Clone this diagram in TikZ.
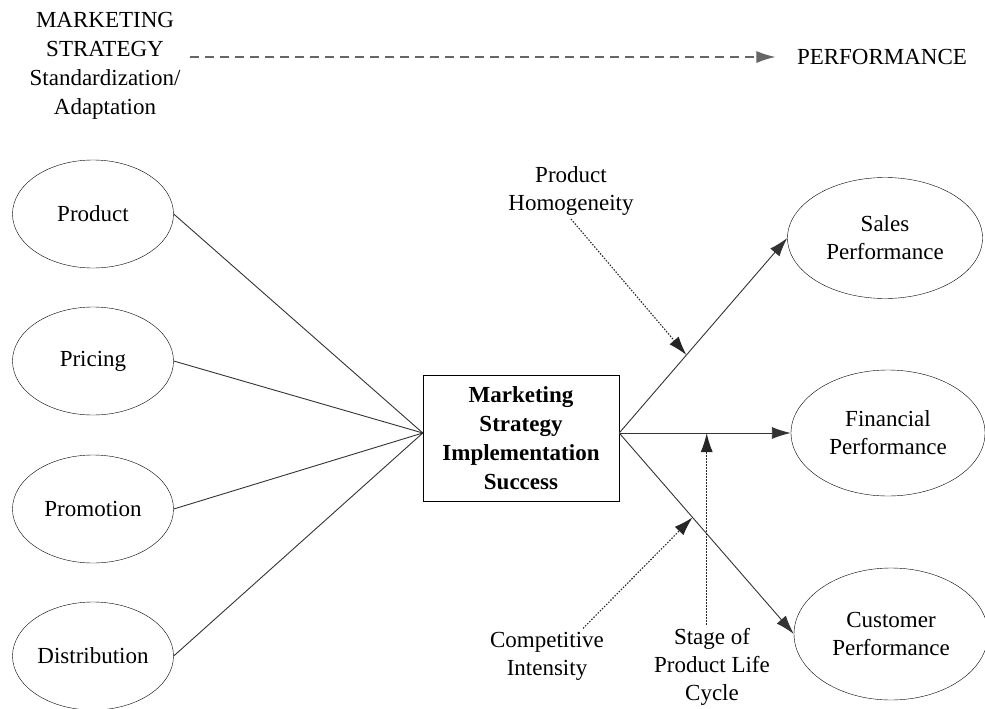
\documentclass[tikz,border=0pt]{standalone}
\usepackage{fontspec}
\setmainfont{Liberation Serif}
\usetikzlibrary{shapes.geometric, arrows.meta, calc}

\begin{document}
\begin{tikzpicture}[x=1pt, y=-1pt,
    every node/.style={font=\fontsize{23}{28}\selectfont, align=center},
    tip/.style={-{Latex[length=19pt, width=12pt]}},
    factor/.style={draw, ellipse, minimum width=161pt, minimum height=108pt, inner sep=0pt},
    outcome/.style={draw, ellipse, minimum width=194pt, minimum height=126pt, inner sep=0pt},
    link/.style={draw=black!80, line width=0.9pt},
    moder/.style={tip, black!85, line width=1.1pt, dash pattern=on 1.5pt off 1.5pt}]
    \useasboundingbox (0,0) rectangle (985,709);
    % Header
    \node [font=\fontsize{23}{29}\selectfont] (mstrat) at (105,66) {MARKETING\\STRATEGY\\Standardization/\\Adaptation};
    \node (perf) at (882,57) {PERFORMANCE};
    \draw [tip, black!60, line width=1.3pt, dash pattern=on 9pt off 6pt, shorten <=6pt, shorten >=18pt]
        (mstrat.east |- perf.west) -- (perf.west);
    % Mix elements
    \foreach \name/\txt/\y in {prod/Product/214, pric/Pricing/361, prom/Promotion/509, dist/Distribution/656}
        \node [factor] (\name) at (93,\y) {\txt};
    % Implementation
    \node [draw, minimum width=196pt, minimum height=126pt, font=\fontsize{23}{29}\selectfont\bfseries]
        (impl) at (521,438) {Marketing\\Strategy\\Implementation\\Success};
    \coordinate (implin) at ([yshift=5pt]impl.west);
    \coordinate (implout) at ([yshift=5pt]impl.east);
    \foreach \name in {prod, pric, prom, dist}
        \draw [link] (\name.east) -- (implin);
    % Outcomes
    \node [outcome, minimum width=195pt, minimum height=121pt] (sales) at (885,238) {Sales\\Performance};
    \node [outcome] (fin) at (888,433) {Financial\\Performance};
    \node [outcome, minimum height=132pt] (cust) at (891,634) {Customer\\Performance};
    \foreach \name in {sales, fin, cust}
        \draw [link, tip] (implout) -- (\name.west);
    % Moderators
    \coordinate (homtip) at ($(implout)!0.40!(sales.west)$);
    \coordinate (stgtip) at ($(implout)!0.51!(fin.west)$);
    \coordinate (cmptip) at ($(implout)!0.42!(cust.west)$);
    \node (homog) at (571,191) {Product\\Homogeneity};
    \node (compet) at (547,656) {Competitive\\Intensity};
    \node (stage) at (712,667) {Stage of\\Product Life\\Cycle};
    \draw [moder] (homog.south) -- (homtip);
    \draw [moder] ([xshift=36pt]compet.north) -- (cmptip);
    \draw [moder] (stage.north -| stgtip) -- (stgtip);
\end{tikzpicture}
\end{document}
